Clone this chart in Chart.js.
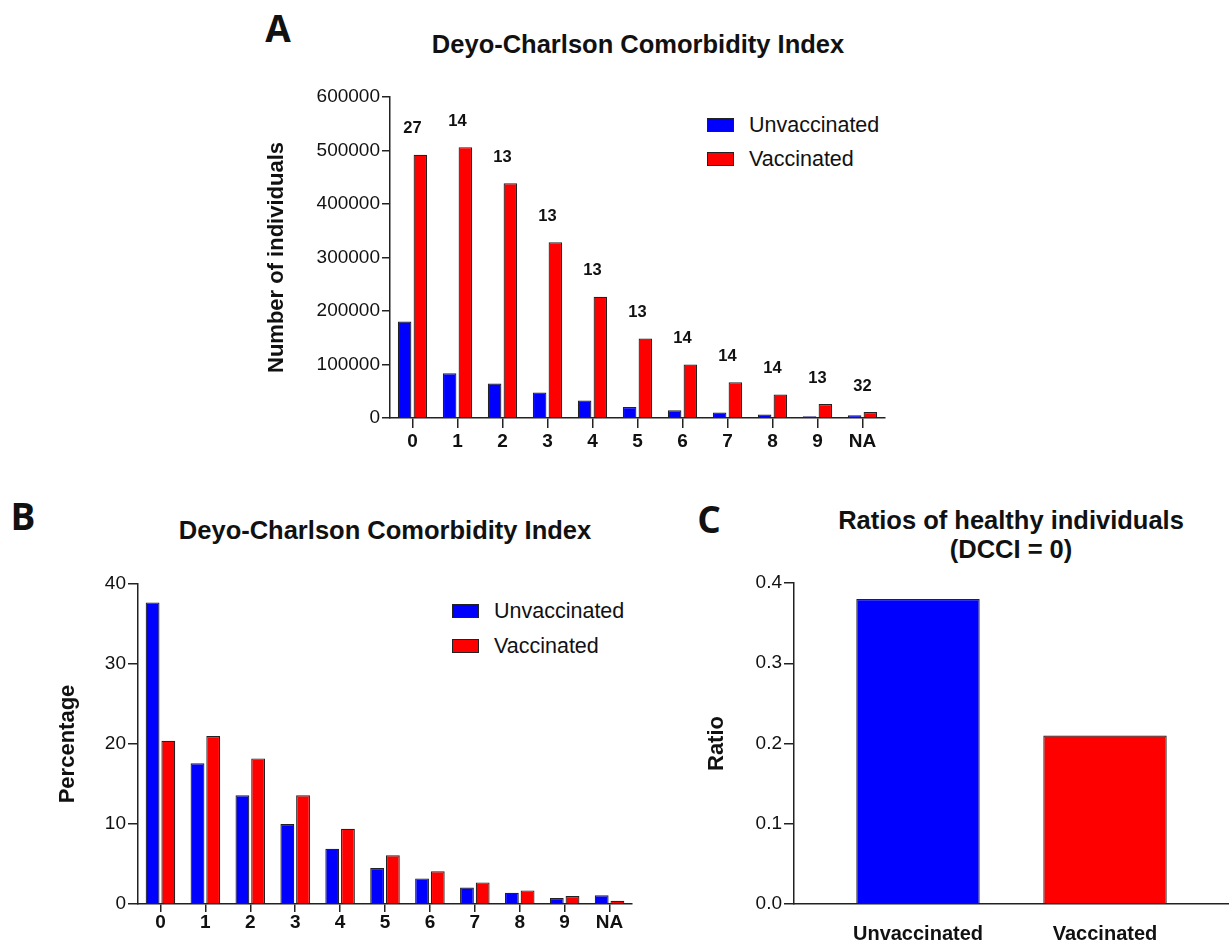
<!DOCTYPE html>
<html>
<head>
<meta charset="utf-8">
<title>Deyo-Charlson Comorbidity Index</title>
<script src="https://cdn.jsdelivr.net/npm/chart.js@4.4.0/dist/chart.umd.min.js"></script>
<style>
  body { margin: 0; background: #fff; font-family: "Liberation Sans", Arial, sans-serif; }
  #page { position: relative; width: 1229px; height: 941px; overflow: hidden; }
  canvas, .txt, .key { position: absolute; }
  .txt { white-space: nowrap; transform: translate(-50%, -50%); color: #111; font-weight: bold; text-align: center; }
  .letter { font-family: "Open Sans", sans-serif; font-size: 37px; }
  .title { font-size: 25.5px; }
  .key { display: flex; align-items: center; height: 22px; font-size: 21.5px; color: #111; }
  .key span { display: inline-block; width: 25px; height: 12px; border: 1.5px solid #222; margin-right: 15px; }
</style>
</head>
<body>
<div id="page">
  <div class="txt letter" style="left:278px;top:27px">A</div>
  <div class="txt title" style="left:638px;top:44px">Deyo-Charlson Comorbidity Index</div>
  <div class="key" style="left:707px;top:114px"><span style="background:#0000ff"></span>Unvaccinated</div>
  <div class="key" style="left:707px;top:148px"><span style="background:#ff0000"></span>Vaccinated</div>

  <div class="txt letter" style="left:23px;top:515px">B</div>
  <div class="txt title" style="left:385px;top:530px">Deyo-Charlson Comorbidity Index</div>
  <div class="key" style="left:452px;top:600px"><span style="background:#0000ff"></span>Unvaccinated</div>
  <div class="key" style="left:452px;top:635px"><span style="background:#ff0000"></span>Vaccinated</div>

  <div class="txt letter" style="left:709px;top:518px">C</div>
  <div class="txt title" style="left:1011px;top:520px">Ratios of healthy individuals</div>
  <div class="txt title" style="left:1011px;top:549px">(DCCI = 0)</div>

  <canvas id="chartA" width="650" height="410" style="left:250px;top:60px"></canvas>
  <canvas id="chartB" width="650" height="381" style="left:0px;top:560px"></canvas>
  <canvas id="chartC" width="579" height="381" style="left:650px;top:560px"></canvas>
</div>
<script>
var categories = ["0", "1", "2", "3", "4", "5", "6", "7", "8", "9", "NA"];
var unvaccinatedCounts = [180500, 83700, 64400, 47500, 32600, 20600, 14400, 10100, 6400, 3200, 5000];
var vaccinatedCounts = [492000, 506300, 438900, 328400, 226600, 148700, 100000, 66900, 43800, 26200, 11200];
var countNotes = [27, 14, 13, 13, 13, 13, 14, 14, 14, 13, 32];
var unvaccinatedPct = [37.7, 17.6, 13.6, 10.0, 6.9, 4.5, 3.2, 2.05, 1.4, 0.75, 1.1];
var vaccinatedPct = [20.4, 21.0, 18.2, 13.6, 9.4, 6.1, 4.1, 2.7, 1.7, 1.0, 0.4];
var groups = ["Unvaccinated", "Vaccinated"];
var healthyRatio = [0.38, 0.21];

var BLUE = "#0000ff", RED = "#ff0000", EDGE = "#222";
var FONT = '"Liberation Sans", Arial, sans-serif';

// small numbers printed above each pair in panel A
var notesPlugin = {
  id: "notes",
  afterDatasetsDraw: function(chart) {
    var ctx = chart.ctx, xs = chart.scales.x, ys = chart.scales.y;
    ctx.save();
    ctx.font = "bold 16.5px " + FONT;
    ctx.fillStyle = "#111";
    ctx.textAlign = "center";
    ctx.textBaseline = "middle";
    countNotes.forEach(function(n, i) {
      ctx.fillText(n, xs.getPixelForValue(i), ys.getPixelForValue(vaccinatedCounts[i]) - 26);
    });
    ctx.restore();
  }
};

function yScale(width, max, step, title, titlePad, tickLen, fmt) {
  return {
    min: 0, max: max,
    afterFit: function(s) { s.width = width; },
    ticks: { stepSize: step, color: "#111", padding: 2, font: { family: FONT, size: 19 },
             callback: fmt },
    grid: { drawOnChartArea: false, tickLength: tickLen, color: EDGE, lineWidth: 1.5 },
    border: { color: EDGE, width: 1.5 },
    title: { display: true, text: title, color: "#111", padding: { top: titlePad, bottom: 0 },
             font: { family: FONT, size: 22, weight: "bold" } }
  };
}

function xScale(height, tickLen, pad) {
  return {
    offset: true,
    afterFit: function(s) { s.height = height; },
    ticks: { color: "#111", padding: pad, font: { family: FONT, size: 19, weight: "bold" } },
    grid: { offset: false, drawOnChartArea: false, tickLength: tickLen, color: EDGE, lineWidth: 1.5 },
    border: { color: EDGE, width: 1.5 }
  };
}

function pairedBars(u, v) {
  return {
    labels: categories,
    datasets: [
      { label: "Unvaccinated", data: u, backgroundColor: BLUE, borderColor: EDGE, borderWidth: 1.2 },
      { label: "Vaccinated", data: v, backgroundColor: RED, borderColor: EDGE, borderWidth: 1.2 }
    ]
  };
}

new Chart(document.getElementById("chartA"), {
  type: "bar",
  data: pairedBars(unvaccinatedCounts, vaccinatedCounts),
  options: {
    responsive: false, animation: false,
    layout: { padding: { top: 37, right: 15, left: 0, bottom: 0 } },
    datasets: { bar: { categoryPercentage: 0.7, barPercentage: 0.86 } },
    plugins: { legend: { display: false }, tooltip: { enabled: false } },
    scales: {
      x: xScale(52, 10, 2),
      y: yScale(140, 600000, 100000, "Number of individuals", 14, 8, function(v) { return v; })
    }
  },
  plugins: [notesPlugin]
});

new Chart(document.getElementById("chartB"), {
  type: "bar",
  data: pairedBars(unvaccinatedPct, vaccinatedPct),
  options: {
    responsive: false, animation: false,
    layout: { padding: { top: 24, right: 18, left: 0, bottom: 0 } },
    datasets: { bar: { categoryPercentage: 0.7, barPercentage: 0.88 } },
    plugins: { legend: { display: false }, tooltip: { enabled: false } },
    scales: {
      x: xScale(37, 8, -1),
      y: yScale(138, 40, 10, "Percentage", 55, 10, function(v) { return v; })
    }
  }
});

new Chart(document.getElementById("chartC"), {
  type: "bar",
  data: {
    datasets: [{
      label: "Ratio",
      data: groups.map(function(g, i) { return { x: i, y: healthyRatio[i] }; }),
      backgroundColor: [BLUE, RED], borderColor: EDGE, borderWidth: 1.2,
      categoryPercentage: 0.66, barPercentage: 1
    }]
  },
  options: {
    responsive: false, animation: false,
    layout: { padding: { top: 23, right: 0, left: 0, bottom: 0 } },
    plugins: { legend: { display: false }, tooltip: { enabled: false } },
    scales: {
      x: {
        type: "linear", min: -0.663, max: 1.663, offset: false,
        afterBuildTicks: function(s) { s.ticks = groups.map(function(g, i) { return { value: i }; }); },
        afterFit: function(s) { s.height = 37; },
        ticks: { color: "#111", padding: 18, font: { family: FONT, size: 20, weight: "bold" },
                 callback: function(v) { return groups[v]; } },
        grid: { drawOnChartArea: false, drawTicks: false },
        border: { color: EDGE, width: 1.5 }
      },
      y: yScale(144, 0.4, 0.1, "Ratio", 54, 10, function(v) { return v.toFixed(1); })
    }
  }
});
</script>
</body>
</html>
